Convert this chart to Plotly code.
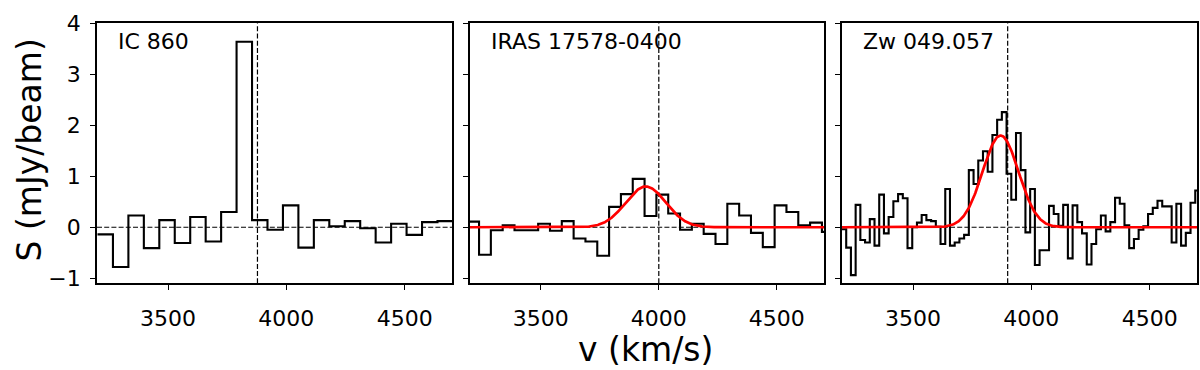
import numpy as np
import plotly.graph_objects as go

# ---------------- data ----------------
# Panel 1: IC 860 (channel centres, km/s) and flux (mJy/beam)
ic860_v0 = 3234.7          # first channel centre
ic860_dv = 65.3            # channel width
ic860_s = [-0.14, -0.78, 0.23, -0.41, 0.14, -0.31, 0.20, -0.28, 0.30, 3.64,
           0.14, -0.05, 0.43, -0.40, 0.14, 0.02, 0.12, -0.02, -0.30, 0.07,
           -0.15, 0.10, 0.12]
ic860_vsys = 3878

# Panel 2: IRAS 17578-0400
iras_v0 = 3213.25
iras_dv = 50.1
iras_s = [0.11, -0.54, -0.06, 0.04, -0.06, -0.06, 0.07, -0.07, 0.12, -0.22,
          -0.28, -0.56, 0.40, 0.65, 0.95, 0.22, 0.64, 0.27, -0.05, 0.07,
          -0.13, -0.33, 0.46, 0.23, -0.11, -0.39, 0.43, 0.30, 0.04, 0.09,
          -0.09]
iras_vsys = 4000
iras_fit = dict(amp=0.80, center=3945, sigma=85)

# Panel 3: Zw 049.057
zw_v0 = 3207.8
zw_dv = 19.93
zw_s = [-0.04, -0.40, -0.94, 0.44, -0.25, -0.30, 0.16, -0.36, 0.64, -0.12,
        0.20, 0.51, 0.65, 0.57, -0.41, 0.00, 0.09, 0.24, 0.14, 0.12,
        0.01, -0.33, 0.75, -0.36, -0.30, -0.22, -0.15, 1.12, 0.85, 1.31,
        1.49, 1.09, 1.81, 2.11, 2.26, 1.05, 0.54, 1.85, 1.12, -0.10,
        0.75, -0.74, -0.45, -0.45, 0.42, 0.26, 0.03, 0.44, -0.61, 0.43,
        0.10, -0.12, -0.73, -0.33, -0.04, 0.23, -0.08, 0.10, 0.58, 0.46,
        0.04, -0.41, -0.23, -0.05, 0.02, 0.26, 0.38, 0.52, 0.41, 0.41,
        -0.30, 0.46, -0.36, -0.11, 0.48, 0.72]
zw_vsys = 3900
zw_fit = dict(amp=1.80, center=3870, sigma=76)

names = ["IC 860", "IRAS 17578-0400", "Zw 049.057"]
x_ticks = [3500, 4000, 4500]
y_ticks = [-1, 0, 1, 2, 3, 4]
x_range = [3200, 4700]
y_range = [-1.1, 4.0005]

# ---------------- figure ----------------
FONT = "DejaVu Sans"
fig = go.Figure()

panels = [
    (ic860_v0, ic860_dv, ic860_s, ic860_vsys, None),
    (iras_v0, iras_dv, iras_s, iras_vsys, iras_fit),
    (zw_v0, zw_dv, zw_s, zw_vsys, zw_fit),
]
xdomains = [[97/1200, 452/1200], [470/1200, 824/1200], [842/1200, 1197/1200]]
ydomain = [1 - 286/370, 1 - 12/370]

for i, (v0, dv, s, vsys, fit) in enumerate(panels):
    n = len(s)
    centres = v0 + dv * np.arange(n)
    edges = np.append(centres - dv / 2, centres[-1] + dv / 2)
    yv = list(s) + [s[-1]]
    xa = "x" if i == 0 else f"x{i+1}"
    ya = "y" if i == 0 else f"y{i+1}"
    fig.add_trace(go.Scatter(x=edges, y=yv, mode="lines", line_shape="hv",
                             line=dict(color="black", width=2.1),
                             xaxis=xa, yaxis=ya, showlegend=False,
                             hoverinfo="skip"))
    if fit is not None:
        xx = np.linspace(x_range[0], x_range[1], 600)
        yy = fit["amp"] * np.exp(-0.5 * ((xx - fit["center"]) / fit["sigma"]) ** 2)
        fig.add_trace(go.Scatter(x=xx, y=yy, mode="lines",
                                 line=dict(color="#ff0000", width=2.7),
                                 xaxis=xa, yaxis=ya, showlegend=False,
                                 hoverinfo="skip"))
    # dashed reference lines
    fig.add_shape(type="line", xref=xa, yref=f"{ya} domain", x0=vsys, x1=vsys,
                  y0=0, y1=1, line=dict(color="black", width=1.2, dash="5px,2.2px"),
                  layer="below")
    fig.add_shape(type="line", xref=f"{xa} domain", yref=ya, x0=0, x1=1,
                  y0=0, y1=0, line=dict(color="black", width=1.2, dash="5px,2.2px"),
                  layer="below")
    # panel name
    fig.add_annotation(text=names[i], xref="paper", yref="paper",
                       x=(xdomains[i][0] * 1200 + 19) / 1200, y=1 - 31 / 370,
                       xanchor="left", yanchor="middle", showarrow=False,
                       font=dict(family=FONT, size=22, color="black"))

    axcommon = dict(showline=True, linecolor="black", linewidth=1.6, mirror=True,
                    ticks="outside", ticklen=5, tickwidth=1.3, tickcolor="black",
                    showgrid=False, zeroline=False, ticklabeloverflow="allow",
                    tickfont=dict(family=FONT, size=22, color="black"))
    xkey = "xaxis" if i == 0 else f"xaxis{i+1}"
    ykey = "yaxis" if i == 0 else f"yaxis{i+1}"
    fig.update_layout({
        xkey: dict(domain=xdomains[i], range=x_range, tickvals=x_ticks,
                   anchor=ya, ticklabelstandoff=9, **axcommon),
        ykey: dict(domain=ydomain, range=y_range, tickvals=y_ticks,
                   anchor=xa, showticklabels=(i == 0), ticklabelstandoff=5,
                   **axcommon),
    })

# axis labels
fig.add_annotation(text="v (km/s)", xref="paper", yref="paper",
                   x=645 / 1200, y=1 - 356 / 370, xanchor="center", yanchor="middle",
                   showarrow=False, font=dict(family=FONT, size=33, color="black"))
fig.add_annotation(text="S (mJy/beam)", xref="paper", yref="paper",
                   x=30 / 1200, y=1 - 146 / 370, xanchor="center", yanchor="middle",
                   textangle=-90, showarrow=False,
                   font=dict(family=FONT, size=33, color="black"))

fig.update_layout(width=1200, height=370, margin=dict(l=0, r=0, t=0, b=0),
                  paper_bgcolor="white", plot_bgcolor="white",
                  font=dict(family=FONT, color="black"))

fig.write_html("out.html", config={"displayModeBar": False},
               post_script="document.body.style.margin='0';"
                           "document.body.style.overflow='hidden';"
                           "document.documentElement.style.overflow='hidden';")
